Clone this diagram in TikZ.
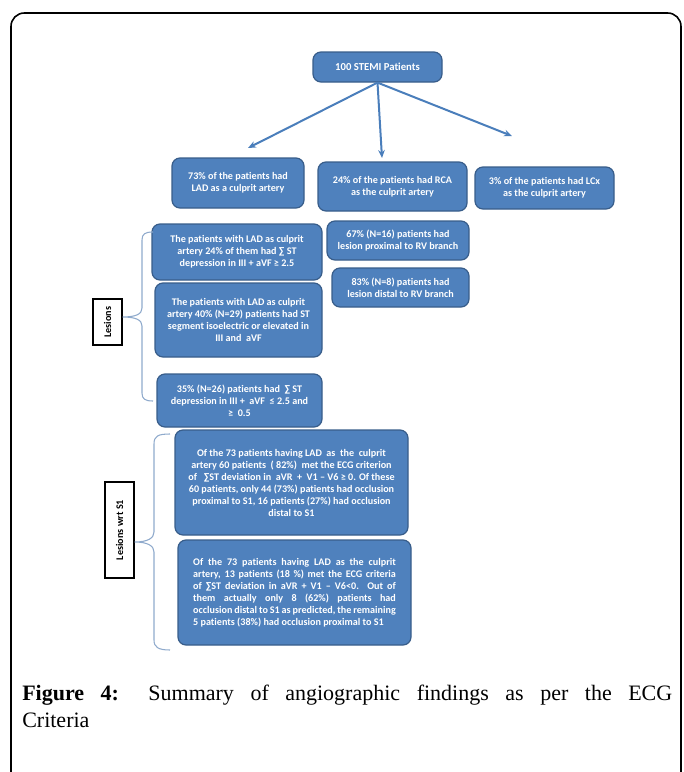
\documentclass[tikz,border=0pt]{standalone}
\usepackage{fontspec}
\setmainfont{Liberation Serif}
\newfontfamily\boxfont[Ligatures=NoCommon]{Carlito}
\usetikzlibrary{arrows.meta}
\definecolor{boxblue}{HTML}{4F81BD}
\definecolor{boxedge}{HTML}{385D8A}
\definecolor{arrowblue}{HTML}{4A7EBB}
\definecolor{bracec}{HTML}{8FAACC}
\begin{document}
\begin{tikzpicture}[x=0.75pt,y=-0.75pt,
 bluebox/.style={draw=boxedge, line width=0.9pt, fill=boxblue, rounded corners=6pt, text=white,
   font=\boxfont\bfseries\fontsize{7.6}{9}\selectfont, align=center, inner sep=0pt},
 labelbox/.style={draw=black, line width=0.8pt, fill=white, rotate=90,
   font=\boxfont\bfseries\fontsize{7.6}{9}\selectfont, inner sep=0pt},
 arrowline/.style={draw=arrowblue, line width=1.5pt, -{Stealth[length=6pt,width=5pt]}},
 bracel/.style={draw=bracec, line width=0.8pt}
]
\useasboundingbox (0,0) rectangle (683,772);
% frame
\draw[line width=1.2pt, rounded corners=10pt] (11,780) -- (11,13) -- (681,13) -- (681,780);

% top
\node[bluebox, minimum width=129*0.75pt, minimum height=30*0.75pt, font=\boxfont\bfseries\fontsize{8}{9.5}\selectfont] (top) at (377.5,67) {100 STEMI Patients};

\node[bluebox, minimum width=132*0.75pt, minimum height=50*0.75pt] (lad) at (238,183) {73\% of the patients had\\LAD as a culprit artery};
\node[bluebox, minimum width=149*0.75pt, minimum height=49*0.75pt] (rca) at (392.5,186.5) {24\% of the patients had RCA\\as the culprit artery};
\node[bluebox, minimum width=139*0.75pt, minimum height=42*0.75pt] (lcx) at (544.5,188) {3\% of the patients had LCx\\as the culprit artery};

\coordinate (aL) at (248,148);
\coordinate (aM) at (382,158);
\coordinate (aR) at (512,136);
\draw[arrowline] (top.south) -- (aL);
\draw[arrowline] (top.south) -- (aM);
\draw[arrowline] (top.south) -- (aR);

% LAD lesions
\node[bluebox, minimum width=170*0.75pt, minimum height=56*0.75pt] (la) at (237,252) {The patients with LAD as culprit\\artery 24\% of them had ∑ ST\\depression in III + aVF ≥ 2.5};
\node[bluebox, minimum width=167*0.75pt, minimum height=74*0.75pt] (lb) at (238.5,320) {The patients with LAD as culprit\\artery 40\% (N=29) patients had ST\\segment isoelectric or elevated in\\III and\ \ aVF};
\node[bluebox, minimum width=165*0.75pt, minimum height=53*0.75pt] (lc) at (239.5,400.5) {35\% (N=26) patients had\ \ ∑ ST\\depression in III +\ \ aVF\ \ ≤ 2.5 and\\≥\ \ 0.5};

% RCA lesions
\node[bluebox, minimum width=142*0.75pt, minimum height=39*0.75pt] (ra) at (398,240.5) {67\% (N=16) patients had\\lesion proximal to RV branch};
\node[bluebox, minimum width=137*0.75pt, minimum height=39*0.75pt] (rb) at (400.5,287.5) {83\% (N=8) patients had\\lesion distal to RV branch};

% S1
\node[bluebox, minimum width=233*0.75pt, minimum height=105*0.75pt] (sa) at (291.5,482.5) {Of the 73 patients having LAD\ \ as\ \ the\ \ culprit\\artery 60 patients\ \ ( 82\%)\ \ met the ECG criterion\\of\ \ \ ∑ST deviation in\ \ aVR\ \ +\ \ V1 – V6 ≥ 0. Of these\\60 patients, only 44 (73\%) patients had occlusion\\proximal to S1, 16 patients (27\%) had occlusion\\distal to S1};
\node[bluebox, minimum width=233*0.75pt, minimum height=105*0.75pt, text width=152pt, align=justify] (sb) at (294.5,592.5) {Of the 73 patients having LAD as the culprit\linebreak artery, 13 patients (18 \%) met the ECG criteria\linebreak of ∑ST deviation in aVR + V1 – V6<0. Out of\linebreak them actually only 8 (62\%) patients had\linebreak occlusion distal to S1 as predicted, the remaining\linebreak 5 patients (38\%) had occlusion proximal to S1};

% labels
\node[labelbox, minimum width=46*0.75pt, minimum height=29*0.75pt] (l1) at (107.5,322) {Lesions};
\node[labelbox, minimum width=96*0.75pt, minimum height=29*0.75pt] (l2) at (119.5,530) {Lesions wrt S1};

% braces
\coordinate (b1t) at (153,232);
\coordinate (b1b) at (153,401);
\coordinate (b2t) at (170,434);
\coordinate (b2b) at (170,650);
\draw[bracel] (b1t) .. controls (145,232) and (142,234) .. (142,240) -- (142,308)
  .. controls (142,314) and (136,317) .. (l1.south |- 0,317)
  .. controls (136,317) and (142,320) .. (142,326) -- (142,393)
  .. controls (142,399) and (145,401) .. (b1b);
\draw[bracel] (b2t) .. controls (158,434) and (154,436) .. (154,444) -- (154,532)
  .. controls (154,538) and (148,542) .. (l2.south |- 0,542)
  .. controls (148,542) and (154,546) .. (154,552) -- (154,640)
  .. controls (154,647) and (158,650) .. (b2b);

% caption
\node[anchor=north west, inner sep=0pt, text width=487.5pt, align=justify,
  font=\fontsize{16.5}{19.8}\selectfont] (cap) at (22,685)
  {\textbf{Figure 4:} Summary of angiographic findings as per the ECG\linebreak Criteria};
\end{tikzpicture}
\end{document}
